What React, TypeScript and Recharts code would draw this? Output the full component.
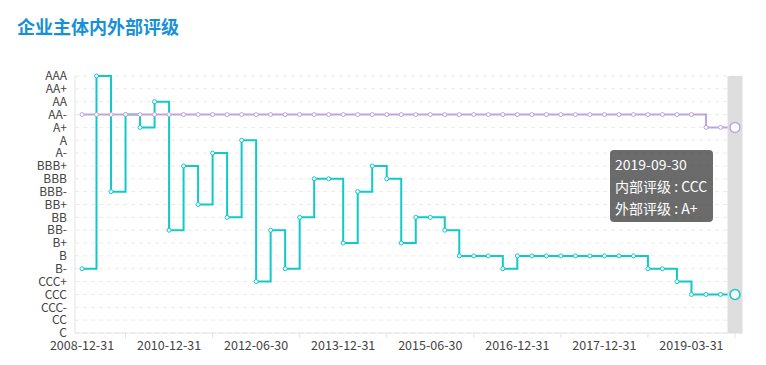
import { LineChart, Line, XAxis, YAxis, CartesianGrid, Tooltip } from 'recharts';

const FONT = "'Microsoft YaHei', 'Noto Sans CJK SC', sans-serif";

const RATINGS = [
  'C', 'CC', 'CCC-', 'CCC', 'CCC+', 'B-', 'B', 'B+', 'BB-', 'BB', 'BB+',
  'BBB-', 'BBB', 'BBB+', 'A-', 'A', 'A+', 'AA-', 'AA', 'AA+', 'AAA',
];

const DATES = [
  '2008-12-31', '2009-03-31', '2009-06-30', '2009-12-31', '2010-03-31', '2010-06-30',
  '2010-12-31', '2011-03-31', '2011-06-30', '2011-09-30', '2011-12-31', '2012-03-31',
  '2012-06-30', '2012-09-30', '2012-12-31', '2013-03-31', '2013-06-30', '2013-09-30',
  '2013-12-31', '2014-03-31', '2014-06-30', '2014-09-30', '2014-12-31', '2015-03-31',
  '2015-06-30', '2015-09-30', '2015-12-31', '2016-03-31', '2016-06-30', '2016-09-30',
  '2016-12-31', '2017-03-31', '2017-04-30', '2017-06-30', '2017-08-31', '2017-09-30',
  '2017-12-31', '2018-03-31', '2018-06-30', '2018-09-30', '2018-10-31', '2018-12-31',
  '2019-03-31', '2019-06-30', '2019-08-31', '2019-09-30',
];

// 内部评级
const INTERNAL = [
  'B-', 'AAA', 'BBB-', 'AA-', 'A+', 'AA', 'BB-', 'BBB+', 'BB+', 'A-',
  'BB', 'A', 'CCC+', 'BB-', 'B-', 'BB', 'BBB', 'BBB', 'B+', 'BBB-',
  'BBB+', 'BBB', 'B+', 'BB', 'BB', 'BB-', 'B', 'B', 'B', 'B-',
  'B', 'B', 'B', 'B', 'B', 'B', 'B', 'B', 'B', 'B-',
  'B-', 'CCC+', 'CCC', 'CCC', 'CCC', 'CCC',
];

// 外部评级
const EXTERNAL = [
  'AA-', 'AA-', 'AA-', 'AA-', 'AA-', 'AA-', 'AA-', 'AA-', 'AA-', 'AA-',
  'AA-', 'AA-', 'AA-', 'AA-', 'AA-', 'AA-', 'AA-', 'AA-', 'AA-', 'AA-',
  'AA-', 'AA-', 'AA-', 'AA-', 'AA-', 'AA-', 'AA-', 'AA-', 'AA-', 'AA-',
  'AA-', 'AA-', 'AA-', 'AA-', 'AA-', 'AA-', 'AA-', 'AA-', 'AA-', 'AA-',
  'AA-', 'AA-', 'AA-', 'A+', 'A+', 'A+',
];

const COLORS = {
  title: '#1690d6',
  internal: '#12c9c9',
  external: '#bba5e2',
  axis: '#e3e3e3',
  grid: '#ebebeb',
  text: '#444',
  shadow: '#dedede',
};

const data = DATES.map((date, i) => ({
  date,
  internal: RATINGS.indexOf(INTERNAL[i]),
  external: RATINGS.indexOf(EXTERNAL[i]),
}));

const yTicks = RATINGS.map((_, i) => i);

function DateTick(props: any) {
  const { x, y, payload } = props;
  const i = payload.index;
  if (i % 6 === 0) {
    return (
      <text x={x} y={y} dy="0.71em" textAnchor="middle" fontSize={12.5} fill={COLORS.text} fontFamily={FONT}>
        {payload.value}
      </text>
    );
  }
  if (i % 6 === 3) {
    return <line x1={x} x2={x} y1={y - 8} y2={y - 3} stroke={COLORS.axis} />;
  }
  return <g />;
}

function ShadowCursor(props: any) {
  const { points, top, height } = props;
  if (!points || !points.length) return null;
  return <rect x={points[0].x - 7.5} y={top} width={15} height={height} fill={COLORS.shadow} />;
}

function TipBox({ active, payload, label }: any) {
  if (!active || !payload || !payload.length) return null;
  return (
    <div
      style={{
        background: 'rgba(50,50,50,0.72)',
        borderRadius: 4,
        padding: '3px 6px 3px 5px',
        color: '#fff',
        fontSize: 14,
        lineHeight: '22px',
        fontFamily: FONT,
        whiteSpace: 'nowrap',
      }}
    >
      <div>{label}</div>
      {payload.map((p: any) => (
        <div key={p.dataKey}>{`${p.name} : ${RATINGS[p.value]}`}</div>
      ))}
    </div>
  );
}

export default function App() {
  return (
    <div style={{ position: 'relative', width: 766, height: 365, background: '#fff', fontFamily: FONT }}>
      <style>{'body{margin:0}'}</style>
      <div
        style={{
          position: 'absolute',
          left: 17,
          top: 15,
          fontSize: 18,
          fontWeight: 'bold',
          color: COLORS.title,
          lineHeight: '22px',
        }}
      >
        企业主体内外部评级
      </div>
      <LineChart width={766} height={365} data={data} margin={{ top: 76, right: 24, left: 15, bottom: 2 }}>
        <CartesianGrid vertical={false} stroke={COLORS.grid} strokeDasharray="4 4" />
        <XAxis
          dataKey="date"
          interval={0}
          height={30}
          padding={{ left: 7, right: 7 }}
          axisLine={{ stroke: COLORS.axis }}
          tickLine={false}
          tick={<DateTick />}
        />
        <YAxis
          type="number"
          domain={[0, 20]}
          ticks={yTicks}
          interval={0}
          width={60}
          axisLine={{ stroke: COLORS.axis }}
          tickLine={false}
          tick={{ fontSize: 12, fill: COLORS.text, fontFamily: FONT }}
          tickFormatter={(v: number) => RATINGS[v]}
        />
        <Tooltip
          defaultIndex={45}
          active
          cursor={<ShadowCursor />}
          position={{ x: 610, y: 150 }}
          content={<TipBox />}
          isAnimationActive={false}
        />
        <Line
          type="stepAfter"
          dataKey="internal"
          name="内部评级"
          stroke={COLORS.internal}
          strokeWidth={2}
          dot={{ r: 2, fill: '#fff', stroke: COLORS.internal, strokeWidth: 1 }}
          activeDot={{ r: 5, fill: '#fff', stroke: COLORS.internal, strokeWidth: 1.5 }}
          isAnimationActive={false}
        />
        <Line
          type="stepAfter"
          dataKey="external"
          name="外部评级"
          stroke={COLORS.external}
          strokeWidth={2}
          dot={{ r: 2, fill: '#fff', stroke: COLORS.external, strokeWidth: 1 }}
          activeDot={{ r: 5, fill: '#fff', stroke: COLORS.external, strokeWidth: 1.5 }}
          isAnimationActive={false}
        />
      </LineChart>
    </div>
  );
}
